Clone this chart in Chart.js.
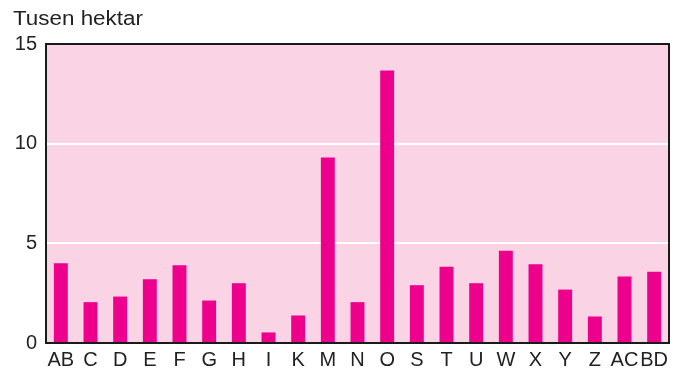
<!DOCTYPE html>
<html>
<head>
<meta charset="utf-8">
<script src="https://cdn.jsdelivr.net/npm/chart.js@4"></script>
<style>
  html, body { margin: 0; padding: 0; background: #fff; }
  #wrap { width: 685px; height: 368px; position: relative; }
</style>
</head>
<body>
<div id="wrap"><canvas id="arealChart"></canvas></div>
<script>
// Areal per fylke, tusen hektar
const fylker = ['AB', 'C', 'D', 'E', 'F', 'G', 'H', 'I', 'K', 'M', 'N', 'O', 'S', 'T', 'U', 'W', 'X', 'Y', 'Z', 'AC', 'BD'];
const areal = [4.0, 2.05, 2.33, 3.2, 3.9, 2.13, 3.0, 0.53, 1.38, 9.3, 2.05, 13.67, 2.9, 3.83, 3.0, 4.63, 3.95, 2.68, 1.33, 3.33, 3.58];
const yTicks = [0, 5, 10, 15];
const enhet = 'Tusen hektar';

const fontFamily = '"Liberation Sans", Arial, sans-serif';

// rosa bakgrunn i plottområdet, ramme og enhetstekst
const plotFrame = {
    id: 'plotFrame',
    beforeDatasetsDraw(chart) {
        const { ctx, chartArea: a } = chart;
        ctx.save();
        ctx.fillStyle = '#FAD4E5';
        ctx.fillRect(a.left, a.top, a.right - a.left, a.bottom - a.top);
        // hvite hjelpelinjer
        const y = chart.scales.y;
        ctx.strokeStyle = '#ffffff';
        ctx.lineWidth = 2;
        yTicks.slice(1, -1).forEach(v => {
            const py = Math.round(y.getPixelForValue(v));
            ctx.beginPath();
            ctx.moveTo(a.left, py);
            ctx.lineTo(a.right, py);
            ctx.stroke();
        });
        ctx.restore();
    },
    afterDatasetsDraw(chart) {
        const { ctx, chartArea: a } = chart;
        ctx.save();
        ctx.strokeStyle = '#1a1a1a';
        ctx.lineWidth = 2;
        ctx.strokeRect(a.left, a.top, a.right - a.left, a.bottom - a.top);
        ctx.fillStyle = '#222';
        ctx.font = '20px ' + fontFamily;
        ctx.textBaseline = 'alphabetic';
        ctx.translate(13, 25);
        ctx.scale(1.12, 1);
        ctx.fillText(enhet, 0, 0);
        ctx.restore();
    }
};

new Chart(document.getElementById('arealChart'), {
    type: 'bar',
    data: {
        labels: fylker,
        datasets: [{
            data: areal,
            backgroundColor: '#EC008C',
            borderWidth: 0,
            categoryPercentage: 1,
            barPercentage: 0.47
        }]
    },
    options: {
        responsive: true,
        maintainAspectRatio: false,
        animation: false,
        layout: { padding: { top: 44, right: 16, left: 0, bottom: 0 } },
        plugins: {
            legend: { display: false },
            tooltip: { enabled: false }
        },
        scales: {
            x: {
                grid: { display: false },
                border: { display: false },
                ticks: {
                    color: '#222',
                    font: { family: fontFamily, size: 20 },
                    padding: -3,
                    maxRotation: 0,
                    autoSkip: false
                },
                afterFit(scale) { scale.height = 25; }
            },
            y: {
                min: 0,
                max: 15,
                afterBuildTicks(scale) { scale.ticks = yTicks.map(v => ({ value: v })); },
                grid: { display: false, drawTicks: false },
                border: { display: false },
                ticks: {
                    color: '#222',
                    font: { family: fontFamily, size: 20 },
                    padding: 9
                },
                afterFit(scale) { scale.width = 46; }
            }
        }
    },
    plugins: [plotFrame]
});
</script>
</body>
</html>
